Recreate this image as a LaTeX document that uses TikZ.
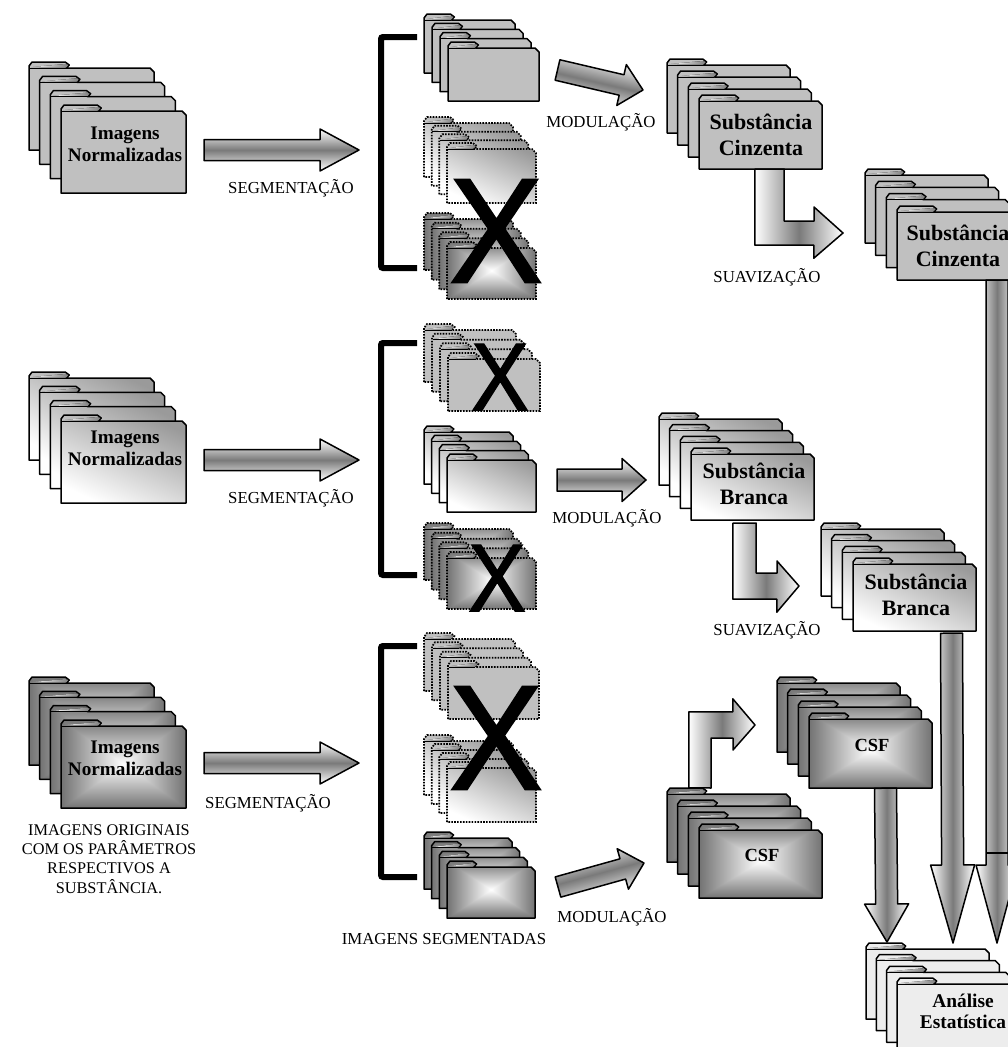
\documentclass[tikz,border=0pt]{standalone}
\usepackage{fontspec}
\setmainfont{Liberation Serif}
\newfontfamily\crossfont[FakeBold=1.5]{Liberation Sans}
\usetikzlibrary{calc, positioning}
\definecolor{flatgray}{HTML}{C0C0C0}
\definecolor{sidegray}{HTML}{9A9A9A}
\definecolor{midgray}{HTML}{7A7A7A}
\pgfdeclarefunctionalshading{rectglow}{\pgfpoint{-50bp}{-50bp}}{\pgfpoint{50bp}{50bp}}{}{
  abs exch abs 2 copy lt {exch} if pop 25 div 1 exch 0.55 mul sub dup dup
}
\tikzset{
  solidline/.style={draw=black, line width=1.5pt, line join=round},
  dotline/.style={draw=black, line width=1.7pt, dash pattern=on 1.6pt off 1.3pt},
  flatfill/.style={fill=flatgray},
  lightfill/.style={top color=white, bottom color=sidegray, shading angle=155},
  glowfill/.style={shade, shading=rectglow},
  folderbox/.style={inner sep=0pt, draw=none},
  foldertext/.style 2 args={font=\fontsize{#1}{#2}\selectfont\bfseries, align=center, inner sep=0pt},
  flowlabel/.style={font=\fontsize{16.8}{19}\selectfont, align=center, inner sep=0pt},
  crossmark/.style={font=\fontsize{#1}{#1}\selectfont\crossfont, inner sep=0pt},
  bracketline/.style={line width=6pt, rounded corners=2pt},
  acrossfill/.style={solidline, top color=white, bottom color=white, middle color=midgray},
  alongfill/.style={solidline, left color=white, right color=white, middle color=midgray},
}
% name, left, tab top, front left, right, front tab top, bottom, looks
\newcommand{\folderstack}[8]{%
  \pgfmathsetmacro{\stackx}{(#4-#2)/3}
  \pgfmathsetmacro{\stacky}{(#6-#3)/3}
  \pgfmathsetmacro{\fw}{#5-#4}
  \pgfmathsetmacro{\fh}{#7-#6}
  \pgfmathsetmacro{\ft}{0.29*\fw}
  \foreach \i in {0,1,2,3} {
    \begin{scope}[shift={({#2+\i*\stackx},{#3+\i*\stacky})}]
      \draw[#8] (0,\fh) -- (0,4) -- (3,0) -- (\ft,0) -- ({\ft+4},3) -- ({\ft+1},6)
        -- ({\fw-4},6) -- (\fw,10) -- (\fw,\fh) -- cycle;
      \fill[left color=white, right color=gray] (2,5.2) -- (\ft,2) -- ({\ft+3},3) -- ({\ft+1},5.4) -- cycle;
      \draw[line width=0.8pt] (0.5,6) -- ({\ft+1},6);
    \end{scope}
  }
  \node[folderbox, minimum width=\fw pt, minimum height=\fh pt] (#1) at ({(#4+#5)/2},{(#6+#7)/2}) {};
}
% start, tip, half shaft, half head, head length, looks
\newcommand{\fatarrow}[6]{%
  \coordinate (headbase) at ($(#2)!#5pt!(#1)$);
  \draw[#6] ($(#1)!#3pt!90:(#2)$) -- ($(headbase)!#3pt!90:(#2)$) -- ($(headbase)!#4pt!90:(#2)$)
    -- (#2) -- ($(headbase)!#4pt!-90:(#2)$) -- ($(headbase)!#3pt!-90:(#2)$)
    -- ($(#1)!#3pt!-90:(#2)$) -- cycle;
}
\begin{document}
\begin{tikzpicture}[x=1pt, y=-1pt]
  \useasboundingbox (0,0) rectangle (1008,1047);

  % left column
  \folderstack{normA}{29}{62}{61}{186}{105}{193}{solidline, flatfill}
  \folderstack{normB}{29}{372}{61}{186}{415}{503}{solidline, lightfill}
  \folderstack{normC}{29}{677}{61}{186}{720}{808}{solidline, glowfill}
  \node[foldertext={19.2}{22}] (normAtext) at (125,144) {Imagens\\Normalizadas};
  \node[foldertext={19.2}{22}] (normBtext) at (125,448) {Imagens\\Normalizadas};
  \node[foldertext={19.2}{22}] (normCtext) at (125,758) {Imagens\\Normalizadas};
  \node[flowlabel, font=\fontsize{16.3}{19.3}\selectfont] (origlabel) at (109,859)
    {IMAGENS ORIGINAIS\\COM OS PARÂMETROS\\RESPECTIVOS A\\SUBSTÂNCIA.};

  % segmented groups
  \folderstack{segAa}{424}{14}{448}{539}{42}{101}{solidline, flatfill}
  \folderstack{segAb}{424}{117}{447}{536}{143}{203}{dotline, lightfill}
  \folderstack{segAc}{424}{213}{447}{536}{242}{299}{dotline, glowfill}
  \folderstack{segBa}{424}{324}{448}{540}{353}{411}{dotline, flatfill}
  \folderstack{segBb}{424}{426}{447}{536}{454}{512}{solidline, lightfill}
  \folderstack{segBc}{424}{523}{447}{536}{552}{609}{dotline, glowfill}
  \folderstack{segCa}{424}{633}{448}{539}{661}{719}{dotline, flatfill}
  \folderstack{segCb}{424}{735}{447}{536}{762}{822}{dotline, lightfill}
  \folderstack{segCc}{424}{832}{447}{535}{861}{918}{solidline, glowfill}
  \node[flowlabel] (seglabel) at (444,939) {IMAGENS SEGMENTADAS};

  \coordinate (bracketAt) at (417,37);
  \coordinate (bracketAb) at (417,268);
  \coordinate (bracketBt) at (417,343);
  \coordinate (bracketBb) at (417,575);
  \coordinate (bracketCt) at (417,646);
  \coordinate (bracketCb) at (417,877);
  \draw[bracketline] (bracketAt) -- ++(-36,0) |- (bracketAb);
  \draw[bracketline] (bracketBt) -- ++(-36,0) |- (bracketBb);
  \draw[bracketline] (bracketCt) -- ++(-36,0) |- (bracketCb);

  % modulated and smoothed
  \folderstack{grayA}{667}{59}{699}{822}{95}{169}{solidline, flatfill}
  \folderstack{grayB}{865}{169}{897}{1020}{206}{280}{solidline, flatfill}
  \folderstack{whiteA}{659}{413}{691}{814}{448}{520}{solidline, lightfill}
  \folderstack{whiteB}{821}{523}{853}{976}{558}{631}{solidline, lightfill}
  \folderstack{csfA}{667}{788}{699}{822}{824}{898}{solidline, glowfill}
  \folderstack{csfB}{777}{677}{809}{932}{713}{788}{solidline, glowfill}
  \folderstack{stats}{866}{943}{897}{1020}{978}{1054}{solidline, fill=black!7}
  \node[foldertext={22}{26}] (grayAtext) at (761,135) {Substância\\Cinzenta};
  \node[foldertext={22}{26}] (grayBtext) at (958,246) {Substância\\Cinzenta};
  \node[foldertext={22}{26}] (whiteAtext) at (754,484) {Substância\\Branca};
  \node[foldertext={22}{26}] (whiteBtext) at (916,595) {Substância\\Branca};
  \node[foldertext={18.5}{22}] (csfBtext) at (872,745) {CSF};
  \node[foldertext={18.5}{22}] (csfAtext) at (762,855) {CSF};
  \node[foldertext={19.4}{21}] (statstext) at (963,1011) {Análise\\Estatística};

  % segmentation and modulation arrows
  \coordinate (segAs) at (204,150);
  \coordinate (segAe) at (359,150);
  \coordinate (segBs) at (204,460);
  \coordinate (segBe) at (359,460);
  \coordinate (segCs) at (204,763);
  \coordinate (segCe) at (359,763);
  \fatarrow{segAs}{segAe}{10.5}{21}{39}{acrossfill}
  \fatarrow{segBs}{segBe}{10.5}{21}{39}{acrossfill}
  \fatarrow{segCs}{segCe}{10.5}{21}{39}{acrossfill}
  \coordinate (modAs) at (557.5,70);
  \coordinate (modAe) at (643,90);
  \coordinate (modBs) at (557,480);
  \coordinate (modBe) at (646,480);
  \coordinate (modCs) at (558,887);
  \coordinate (modCe) at (644,863);
  \fatarrow{modAs}{modAe}{10.5}{21}{22}{acrossfill, shading angle=-13}
  \fatarrow{modBs}{modBe}{11}{21.5}{24}{acrossfill}
  \fatarrow{modCs}{modCe}{10.5}{21}{22}{acrossfill, shading angle=15}
  \node[flowlabel] (seglabelA) at (291,188) {SEGMENTAÇÃO};
  \node[flowlabel] (seglabelB) at (291,498) {SEGMENTAÇÃO};
  \node[flowlabel] (seglabelC) at (268,803) {SEGMENTAÇÃO};
  \node[flowlabel] (modlabelA) at (601,122) {MODULAÇÃO};
  \node[flowlabel] (modlabelB) at (607,518) {MODULAÇÃO};
  \node[flowlabel] (modlabelC) at (612,917) {MODULAÇÃO};

  % smoothing arrows
  \coordinate (smoothAs) at ($(grayA.south west)+(56,0)$);
  \coordinate (smoothAe) at (843,233);
  \draw[alongfill] (smoothAs) -- ++(0,76) -- ++(59,0) -- ++(0,13) -- (smoothAe)
    -- ++(-29,-26) -- ++(0,14) -- ++(-30,0) -- ++(0,-52) -- cycle;
  \coordinate (smoothBs) at ($(whiteA.south west)+(42,3)$);
  \coordinate (smoothBe) at (799,586);
  \draw[alongfill] (smoothBs) -- ++(0,76) -- ++(44,0) -- ++(0,13) -- (smoothBe)
    -- ++(-22,-25) -- ++(0,12) -- ++(-21,0) -- ++(0,-50) -- cycle;
  \coordinate (csfUps) at ($(csfA.north west)+(-10,-36)$);
  \coordinate (csfUpe) at (755,725);
  \draw[alongfill] (csfUps) -- ++(0,-76) -- ++(44,0) -- ++(0,-13) -- (csfUpe)
    -- ++(-22,25) -- ++(0,-12) -- ++(-22,0) -- ++(0,50) -- cycle;
  \node[flowlabel] (smoothlabelA) at (767,277) {SUAVIZAÇÃO};
  \node[flowlabel] (smoothlabelB) at (767,630) {SUAVIZAÇÃO};

  % arrows into the analysis
  \coordinate (statsCsfs) at ($(csfB.south)+(15,0)$);
  \coordinate (statsCsfe) at (887,942);
  \coordinate (statsWhites) at ($(whiteB.south)+(37,2)$);
  \coordinate (statsWhitee) at (953,943);
  \coordinate (statsGrays) at (997,280);
  \coordinate (statsGraye) at (997,943);
  \fatarrow{statsCsfs}{statsCsfe}{11}{22}{38}{alongfill}
  \fatarrow{statsWhites}{statsWhitee}{11}{22}{78}{alongfill}
  \fatarrow{statsGrays}{statsGraye}{11}{21}{78}{alongfill}
  \coordinate (seamA) at (986,853);
  \coordinate (seamB) at (1008,853);
  \draw[solidline] (seamA) -- (seamB);

  % crossed out groups
  \node[crossmark=149, xscale=0.94] (crossA) at (496,231) {X};
  \node[crossmark=96, xscale=0.9] (crossB) at (500,377) {X};
  \node[crossmark=96, xscale=0.9] (crossC) at (497,578) {X};
  \node[crossmark=149, xscale=0.94] (crossD) at (496,738) {X};
\end{tikzpicture}
\end{document}
